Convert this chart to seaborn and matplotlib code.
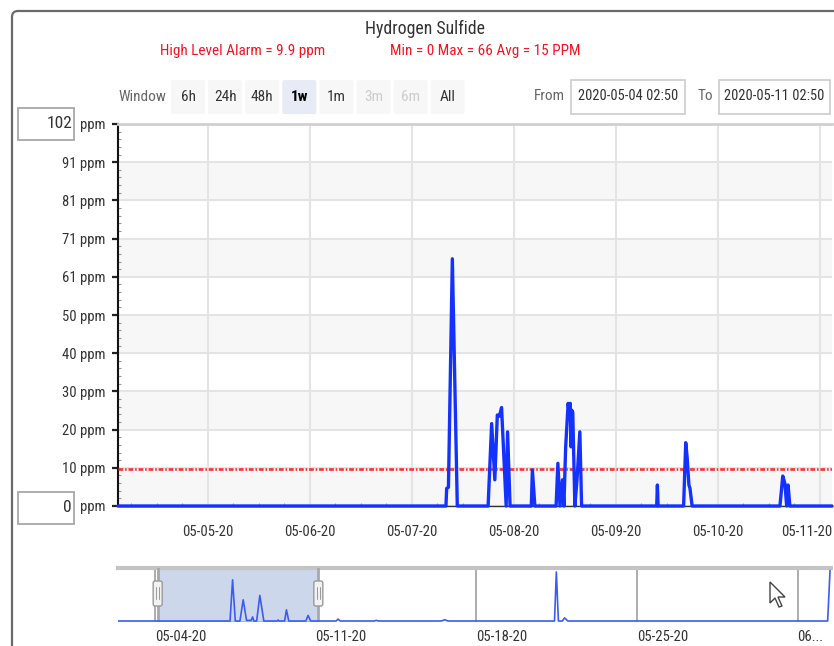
import numpy as np
import pandas as pd
import matplotlib
matplotlib.use("Agg")
import matplotlib.pyplot as plt
import matplotlib.dates as mdates
import matplotlib.ticker as mticker
from matplotlib.patches import FancyBboxPatch, Rectangle, Polygon
from matplotlib.transforms import ScaledTranslation
from matplotlib import font_manager as fm
import seaborn as sns

# ---------------- data ----------------
title = "Hydrogen Sulfide"
alarm_text = "High Level Alarm = 9.9 ppm"
stats_text = "Min = 0 Max = 66 Avg = 15 PPM"
alarm_level = 9.9
y_max = 102
y_tick_values = [0, 10.2, 20.4, 30.6, 40.8, 51, 61.2, 71.4, 81.6, 91.8, 102]
y_tick_labels = ["0", "10", "20", "30", "40", "50", "61", "71", "81", "91", "102"]
unit = "ppm"

window_start = "2020-05-04 02:50"
window_end = "2020-05-11 02:50"

main_times = [
    "2020-05-04 02:50", "2020-05-07 08:00", "2020-05-07 08:10", "2020-05-07 08:35",
    "2020-05-07 09:30", "2020-05-07 10:40",
    "2020-05-07 17:55", "2020-05-07 18:45", "2020-05-07 19:30", "2020-05-07 20:05",
    "2020-05-07 20:35", "2020-05-07 21:05", "2020-05-07 22:10", "2020-05-07 22:30",
    "2020-05-07 23:05",
    "2020-05-08 04:05", "2020-05-08 04:20", "2020-05-08 04:55",
    "2020-05-08 09:55", "2020-05-08 10:20", "2020-05-08 10:50", "2020-05-08 11:25",
    "2020-05-08 11:45", "2020-05-08 12:10", "2020-05-08 12:45", "2020-05-08 13:00",
    "2020-05-08 13:15", "2020-05-08 13:25", "2020-05-08 13:35", "2020-05-08 13:50",
    "2020-05-08 14:20", "2020-05-08 14:50", "2020-05-08 15:30", "2020-05-08 15:55",
    "2020-05-09 09:35", "2020-05-09 09:45", "2020-05-09 09:55",
    "2020-05-09 15:55", "2020-05-09 16:25", "2020-05-09 16:45", "2020-05-09 17:10",
    "2020-05-09 17:25", "2020-05-09 17:55",
    "2020-05-10 14:35", "2020-05-10 15:15", "2020-05-10 15:45", "2020-05-10 16:10",
    "2020-05-10 16:30", "2020-05-10 16:55",
    "2020-05-11 02:50",
]
main_values = [
    0, 0, 4.7, 5,
    66, 0,
    0, 22, 7, 24.3,
    24, 26.3, 0, 19.8,
    0,
    0, 9.6, 0,
    0, 11.4, 0, 7,
    0, 15.8, 27.4, 25,
    27.4, 15.8, 25.6, 25,
    0, 7, 19.8, 0,
    0, 5.6, 0,
    0, 16.9, 13, 5.6,
    4.7, 0,
    0, 8, 6, 0,
    5.6, 0,
    0,
]

nav_start = "2020-05-02 09:20"
nav_end = "2020-06-02 11:00"
nav_times = [
    "2020-05-02 09:20", "2020-05-07 06:30", "2020-05-07 09:10", "2020-05-07 12:00",
    "2020-05-07 16:50", "2020-05-07 20:15", "2020-05-07 23:45",
    "2020-05-08 04:35", "2020-05-08 06:05", "2020-05-08 07:25",
    "2020-05-08 10:20", "2020-05-08 13:40", "2020-05-08 17:50",
    "2020-05-09 07:50", "2020-05-09 08:50", "2020-05-09 09:50",
    "2020-05-09 15:35", "2020-05-09 17:30", "2020-05-09 19:55",
    "2020-05-10 13:45", "2020-05-10 16:10", "2020-05-10 18:45",
    "2020-05-11 21:20", "2020-05-11 23:30", "2020-05-12 01:50",
    "2020-05-13 13:30", "2020-05-13 15:35", "2020-05-13 17:40",
    "2020-05-16 11:30", "2020-05-16 15:00", "2020-05-16 18:30",
    "2020-05-21 09:50", "2020-05-21 11:45", "2020-05-21 13:55",
    "2020-05-21 18:00", "2020-05-21 20:25", "2020-05-21 23:45",
    "2020-06-02 07:30", "2020-06-02 10:00",
]
nav_values = [
    0, 0, 66, 0,
    0, 34, 1,
    1, 6.5, 0,
    0, 41, 0,
    0, 1.6, 0,
    0, 18, 0,
    0, 9, 0,
    0, 3, 0,
    0, 1, 0,
    0, 2, 0,
    0, 78.6, 0,
    0, 5, 0,
    0, 81,
]
nav_y_max = 85

x_tick_dates = ["2020-05-05", "2020-05-06", "2020-05-07", "2020-05-08",
                "2020-05-09", "2020-05-10", "2020-05-11"]
x_tick_labels = ["05-05-20", "05-06-20", "05-07-20", "05-08-20",
                 "05-09-20", "05-10-20", "05-11-20"]
nav_tick_dates = ["2020-05-04", "2020-05-11", "2020-05-18", "2020-05-25", "2020-06-01"]
nav_tick_labels = ["05-04-20", "05-11-20", "05-18-20", "05-25-20", "06..."]

buttons = ["6h", "24h", "48h", "1w", "1m", "3m", "6m", "All"]
selected_button = "1w"
disabled_buttons = ["3m", "6m"]
from_text = "2020-05-04 02:50"
to_text = "2020-05-11 02:50"

# ---------------- style ----------------
sns.set_style("white")
names = {f.name for f in fm.fontManager.ttflist}
candidates = ["Liberation Sans Narrow", "Roboto Condensed", "Open Sans Condensed",
              "Noto Sans Condensed", "Arial Narrow"]
chosen = next((c for c in candidates if c in names), None)
if chosen:
    plt.rcParams["font.family"] = [chosen, "DejaVu Sans"]
    SC = 1.0
else:
    plt.rcParams["font.family"] = ["DejaVu Sans"]
    plt.rcParams["font.stretch"] = "condensed"
    SC = 0.88

W, H = 834, 646
DPI = 100
fig = plt.figure(figsize=(W / DPI, H / DPI), dpi=DPI)
fig.patch.set_facecolor("white")


def fx(x):
    return x / W


def fy(y):
    return 1 - y / H


def inch(x, y):
    return x / DPI, (H - y) / DPI


main_color = "#1432ff"
nav_color = "#3a5cf5"
text_color = "#333333"
red = "#f2141e"
FS = 11 * SC
FS_S = 10.5 * SC

# outer frame
frame = FancyBboxPatch(inch(12, 700), 10, (700 - 11) / DPI,
                       boxstyle="round,pad=0,rounding_size=0.06",
                       transform=fig.dpi_scale_trans, fill=False,
                       ec="#6a6a6a", lw=1.6, zorder=0)
fig.add_artist(frame)

# titles
fig.text(fx(425), fy(29), title, ha="center", va="center", fontsize=12.8 * SC, color=text_color)
fig.text(fx(243), fy(51), alarm_text, ha="center", va="center", fontsize=11 * SC, color=red)
fig.text(fx(485), fy(51), stats_text, ha="center", va="center", fontsize=11 * SC, color=red)

# range selector
fig.text(fx(142), fy(97), "Window", ha="center", va="center", fontsize=FS, color="#666666")
for i, b in enumerate(buttons):
    x0 = 171 + i * 37.1
    fc = "#e6ebf5" if b == selected_button else "#f7f7f7"
    p = FancyBboxPatch(inch(x0, 114), 34 / DPI, 34 / DPI,
                       boxstyle="round,pad=0,rounding_size=0.02",
                       transform=fig.dpi_scale_trans, fc=fc, ec="none")
    fig.add_artist(p)
    col = "#cccccc" if b in disabled_buttons else ("#000000" if b == selected_button else text_color)
    fw = "bold" if b == selected_button else "normal"
    fig.text(fx(x0 + 17), fy(97), b, ha="center", va="center", fontsize=FS, color=col, fontweight=fw)

fig.text(fx(565), fy(96), "From", ha="right", va="center", fontsize=FS, color="#666666")
fig.text(fx(713), fy(96), "To", ha="right", va="center", fontsize=FS, color="#666666")
for (bx0, bx1, txt) in [(571, 685, from_text), (719, 830, to_text)]:
    r = Rectangle(inch(bx0, 114), (bx1 - bx0) / DPI, 34 / DPI, transform=fig.dpi_scale_trans,
                  fc="white", ec="#cccccc", lw=1.2)
    fig.add_artist(r)
    fig.text(fx((bx0 + bx1) / 2), fy(96), txt, ha="center", va="center", fontsize=FS * 0.95,
             color=text_color)

# ---------------- main chart ----------------
ax = fig.add_axes([fx(118), fy(506), (832 - 118) / W, (506 - 124) / H])
df = pd.DataFrame({"time": pd.to_datetime(main_times), "value": main_values})
sns.lineplot(data=df, x="time", y="value", ax=ax, color=main_color, lw=2.4,
             clip_on=False, zorder=6)
ax.set_xlim(pd.Timestamp(window_start), pd.Timestamp(window_end))
ax.set_ylim(0, y_max)
ax.set_xlabel("")
ax.set_ylabel("")

for i in range(0, len(y_tick_values) - 1, 2):
    ax.axhspan(y_tick_values[i], y_tick_values[i + 1], color="#f7f7f7", zorder=0.1, lw=0)

ax.axhline(alarm_level, color="#ff3030", lw=1.9, dashes=(1.8, 0.7, 0.6, 0.7), zorder=4)

ax.set_axisbelow(True)
ax.grid(True, which="major", color="#e4e4e4", lw=1.5)

ax.set_yticks(y_tick_values)
ax.set_yticklabels([unit if i in (0, len(y_tick_labels) - 1) else f"{l} {unit}"
                    for i, l in enumerate(y_tick_labels)])
ax.yaxis.set_minor_locator(mticker.MultipleLocator(y_max / 50))
ax.tick_params(axis="y", which="major", direction="out", length=4, width=1.6,
               color="#222222", labelsize=FS_S, labelcolor=text_color, pad=5, left=True)
ax.tick_params(axis="y", which="minor", direction="in", length=2.5, width=0.8,
               color="#999999", left=True)

ax.set_xticks(pd.to_datetime(x_tick_dates))
ax.set_xticklabels(x_tick_labels)
ax.xaxis.set_minor_locator(mdates.HourLocator(byhour=[6, 12, 18]))
ax.tick_params(axis="x", which="major", length=0, pad=14, labelsize=FS_S, labelcolor=text_color)
ax.tick_params(axis="x", which="minor", direction="in", length=2.5, width=0.8,
               color="#999999", bottom=True)
last = ax.get_xticklabels()[-1]
last.set_ha("right")
last.set_transform(last.get_transform() + ScaledTranslation(12 / DPI, 0, fig.dpi_scale_trans))

ax.spines["right"].set_visible(False)
ax.spines["top"].set_color("#d0d0d0")
ax.spines["top"].set_linewidth(2)
ax.spines["left"].set_color("#111111")
ax.spines["left"].set_linewidth(1.5)
ax.spines["bottom"].set_color("#333333")
ax.spines["bottom"].set_linewidth(1)

# boxed extreme values
for (yc, txt) in [(124, y_tick_labels[-1]), (508, y_tick_labels[0])]:
    r = Rectangle(inch(18, yc + 16), 56 / DPI, 32 / DPI, transform=fig.dpi_scale_trans,
                  fc="white", ec="#a8a8a8", lw=1.3)
    fig.add_artist(r)
    fig.text(fx(72), fy(yc), txt, ha="right", va="center", fontsize=12.5 * SC, color=text_color)

# ---------------- navigator ----------------
ax2 = fig.add_axes([fx(118), fy(622), (831 - 118) / W, (622 - 568) / H])
ndf = pd.DataFrame({"time": pd.to_datetime(nav_times), "value": nav_values})
ax2.axvspan(pd.Timestamp(window_start), pd.Timestamp(window_end), color="#cdd7eb", zorder=1, lw=0)
sns.lineplot(data=ndf, x="time", y="value", ax=ax2, color=nav_color, lw=1.2, zorder=5)
ax2.set_xlim(pd.Timestamp(nav_start), pd.Timestamp(nav_end))
ax2.set_ylim(-1.6, nav_y_max)
ax2.set_xlabel("")
ax2.set_ylabel("")
ax2.set_yticks([])
ax2.set_xticks(pd.to_datetime(nav_tick_dates))
ax2.set_xticklabels(nav_tick_labels)
for lab in ax2.get_xticklabels():
    lab.set_ha("left")
    lab.set_transform(lab.get_transform() + ScaledTranslation(2 / DPI, 0, fig.dpi_scale_trans))
ax2.tick_params(axis="x", length=0, pad=6, labelsize=FS_S, labelcolor=text_color)
ax2.set_axisbelow(True)
ax2.grid(True, axis="x", color="#a0a0a0", lw=1.2)
for s in ["left", "right", "bottom"]:
    ax2.spines[s].set_visible(False)
ax2.spines["top"].set_color("#c4c4c4")
ax2.spines["top"].set_linewidth(3)

# selection outline and handles
fig.canvas.draw()
xs_px = [ax2.transData.transform((mdates.date2num(pd.Timestamp(t)), 0))[0] * 100 / fig.dpi
         for t in (window_start, window_end)]
for t in (window_start, window_end):
    ax2.axvline(pd.Timestamp(t), color="#a8a8a8", lw=2, zorder=3)
ax2.plot([pd.Timestamp(window_start), pd.Timestamp(window_end)], [-1.4, -1.4],
         color="#b0b0b0", lw=1.2, zorder=2)
for xp in xs_px:
    h = FancyBboxPatch(inch(xp - 4.5, 606), 9 / DPI, 25 / DPI,
                       boxstyle="round,pad=0,rounding_size=0.02",
                       transform=fig.dpi_scale_trans, fc="#f2f2f2", ec="#999999", lw=1, zorder=10)
    fig.add_artist(h)
    for dx in (-1.3, 1.3):
        fig.add_artist(plt.Line2D([(xp + dx) / DPI] * 2, [(H - 587) / DPI, (H - 599) / DPI],
                                  transform=fig.dpi_scale_trans, color="#999999", lw=0.7, zorder=11))

# mouse pointer
cur = np.array([[770, 582], [770, 603], [775, 598], [779, 607], [782, 606], [778, 597], [785, 597]])
fig.add_artist(Polygon([inch(a, b) for a, b in cur], closed=True, transform=fig.dpi_scale_trans,
                       fc="white", ec="#444444", lw=1, zorder=12))

fig.savefig("out.png", dpi=DPI)
